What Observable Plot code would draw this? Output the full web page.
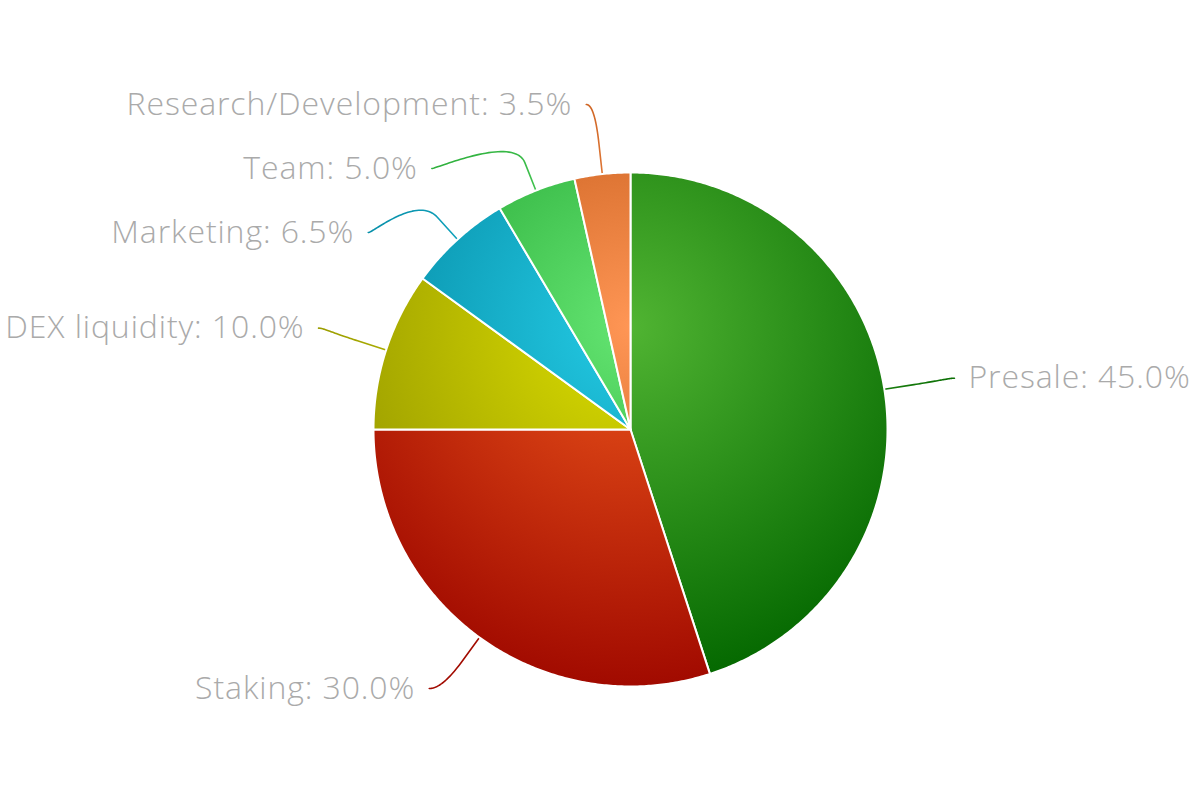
<!DOCTYPE html>
<html><head><meta charset="utf-8">
<script src="https://cdn.jsdelivr.net/npm/d3@7"></script>
<script src="https://cdn.jsdelivr.net/npm/@observablehq/plot@0.6"></script>
<style>html,body{margin:0;padding:0;background:#fff}</style>
</head><body><div id="chart"></div>
<script>
// ---- data ----
const categories = ["Presale", "Staking", "DEX liquidity", "Marketing", "Team", "Research/Development"];
const shares = [45.0, 30.0, 10.0, 6.5, 5.0, 3.5];
const baseColors = ["#50B432", "#ED561B", "#DDDF00", "#24CBE5", "#64E572", "#FF9655"];

// ---- layout ----
const W = 1200, H = 800;
const cx = 630, cy = 429, R = 257;
const labelR = 328, breakR = R + 30, labelGap = 64, yMin = 104, yMax = 688;
const FONT = "'Open Sans', 'Noto Sans', sans-serif";

const arcs = d3.pie().sort(null).value(d => d)(shares);
const pt = (a, r) => ({x: cx + r * Math.sin(a), y: cy - r * Math.cos(a)});

// slice polygons
const slices = arcs.map((a, i) => {
  const n = Math.max(4, Math.ceil((a.endAngle - a.startAngle) / (Math.PI / 360)));
  const pts = [{x: cx, y: cy}];
  for (let k = 0; k <= n; k++) pts.push(pt(a.startAngle + (a.endAngle - a.startAngle) * k / n, R));
  return pts;
});

// labels
const labels = arcs.map((a, i) => {
  const m = (a.startAngle + a.endAngle) / 2;
  return {i, m, right: m < Math.PI, y0: cy - labelR * Math.cos(m),
          text: `${categories[i]}: ${shares[i].toFixed(1)}%`};
});
for (const side of [true, false]) {
  const g = labels.filter(d => d.right === side).sort((a, b) => a.y0 - b.y0);
  let prev = -Infinity;
  for (const d of g) { d.y = Math.max(d.y0, prev + labelGap, yMin); prev = d.y; }
  let next = Infinity;
  for (let k = g.length - 1; k >= 0; k--) { g[k].y = Math.min(g[k].y, next - labelGap, yMax); next = g[k].y; }
  for (const d of g) {
    const dy = d.y - cy;
    const dx = Math.sqrt(Math.max(0, labelR * labelR - dy * dy));
    d.x = cx + (side ? dx : -dx);
  }
}

// connectors: cubic bezier label -> break point, then straight to slice edge
const connectors = labels.map(d => {
  const E = pt(d.m, R), B = pt(d.m, breakR);
  const dir = d.right ? 1 : -1;
  const P0 = {x: d.x, y: d.y}, C1 = {x: d.x - dir * 5, y: d.y}, C2 = {x: 2 * B.x - E.x, y: 2 * B.y - E.y};
  const pts = [];
  for (let k = 0; k <= 40; k++) {
    const t = k / 40, u = 1 - t;
    pts.push({
      x: u*u*u*P0.x + 3*u*u*t*C1.x + 3*u*t*t*C2.x + t*t*t*B.x,
      y: u*u*u*P0.y + 3*u*u*t*C1.y + 3*u*t*t*C2.y + t*t*t*B.y
    });
  }
  pts.push(E);
  return pts;
});

const darker = c => { const r = d3.rgb(c); return d3.rgb(Math.max(0, r.r - 76), Math.max(0, r.g - 76), Math.max(0, r.b - 76)).formatHex(); };

const marks = [];
connectors.forEach((pts, i) => marks.push(Plot.line(pts, {x: "x", y: "y", stroke: `url(#pg${i})`, strokeWidth: 1.6, curve: "linear"})));
slices.forEach((pts, i) => marks.push(Plot.line(pts, {x: "x", y: "y", fill: `url(#pg${i})`, stroke: "white", strokeWidth: 2, strokeLinejoin: "round", curve: "linear-closed"})));
marks.push(Plot.text(labels.filter(d => d.right), {x: "x", y: "y", text: "text", dx: 14, textAnchor: "start", lineAnchor: "middle", fill: "#aaaaaa", fontSize: 32, fontWeight: 300, fontFamily: FONT}));
marks.push(Plot.text(labels.filter(d => !d.right), {x: "x", y: "y", text: "text", dx: -14, textAnchor: "end", lineAnchor: "middle", fill: "#aaaaaa", fontSize: 32, fontWeight: 300, fontFamily: FONT}));

const svg = Plot.plot({
  width: W, height: H, margin: 0,
  x: {domain: [0, W], range: [0, W], axis: null},
  y: {domain: [0, H], range: [0, H], axis: null},
  style: {fontFamily: FONT, background: "white", letterSpacing: "0.9px"},
  marks
});

// radial gradients (relative to the whole pie, like cx .5, cy .3, r .7)
const xs = svg.scale("x"), ys = svg.scale("y");
const defs = d3.select(svg).insert("defs", ":first-child");
baseColors.forEach((c, i) => {
  const g = defs.append("radialGradient").attr("id", `pg${i}`).attr("gradientUnits", "userSpaceOnUse")
    .attr("cx", xs.apply(cx)).attr("cy", ys.apply(cy - R + 0.3 * 2 * R)).attr("r", 0.7 * 2 * R);
  g.append("stop").attr("offset", 0).attr("stop-color", c);
  g.append("stop").attr("offset", 1).attr("stop-color", darker(c));
});

document.getElementById("chart").appendChild(svg);
</script>
</body></html>
